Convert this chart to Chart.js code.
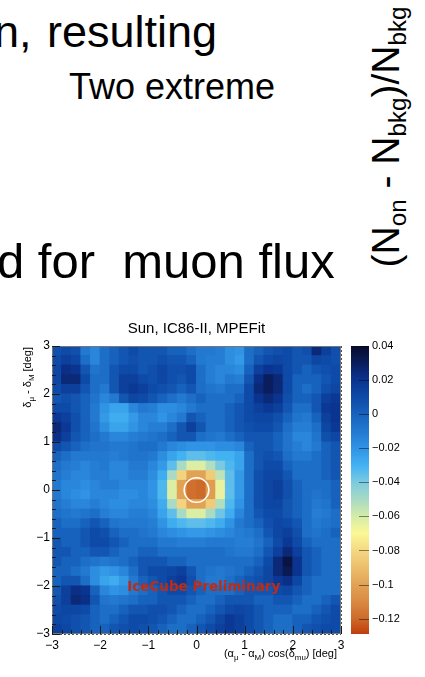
<!DOCTYPE html>
<html>
<head>
<meta charset="utf-8">
<script src="https://cdn.jsdelivr.net/npm/chart.js@4.4.1/dist/chart.umd.min.js"></script>
<style>
  html, body { margin: 0; padding: 0; background: #fff; }
  body { width: 425px; height: 677px; position: relative; overflow: hidden; font-family: 'Liberation Sans', Arial, sans-serif; }
  .slide { position: absolute; white-space: pre; color: #000; }
  #ratio { position: absolute; left: 386px; top: 137px; transform: translate(-50%, -50%) rotate(-90deg); font-size: 39px; line-height: 42px; white-space: nowrap; }
  #ratio sub { font-size: 0.62em; vertical-align: -0.3em; line-height: 0; }
  #chart { position: absolute; left: 0; top: 0; }
</style>
</head>
<body>
<div class="slide" style="left:-6px; top:9px; font-size:45px; line-height:45px; word-spacing:3px">n, resulting</div>
<div class="slide" style="left:69px; top:69px; font-size:36px; line-height:36px">Two extreme</div>
<div class="slide" style="left:-3px; top:237px; font-size:49px; line-height:49px">d for  muon flux</div>
<div id="ratio">(N<sub>on</sub> - N<sub>bkg</sub>)/N<sub>bkg</sub></div>
<canvas id="chart" width="425" height="677"></canvas>
<script>
// bin centres (deg), 0.2 deg bins
const xBins = [-2.9, -2.7, -2.5, -2.3, -2.1, -1.9, -1.7, -1.5, -1.3, -1.1, -0.9, -0.7, -0.5, -0.3, -0.1,
               0.1, 0.3, 0.5, 0.7, 0.9, 1.1, 1.3, 1.5, 1.7, 1.9, 2.1, 2.3, 2.5, 2.7, 2.9];
const yBins = [2.9, 2.7, 2.5, 2.3, 2.1, 1.9, 1.7, 1.5, 1.3, 1.1, 0.9, 0.7, 0.5, 0.3, 0.1,
               -0.1, -0.3, -0.5, -0.7, -0.9, -1.1, -1.3, -1.5, -1.7, -1.9, -2.1, -2.3, -2.5, -2.7, -2.9];
const binWidth = 0.2;

// (Non - Nbkg)/Nbkg in units of 0.001, rows from top (+3 deg) to bottom (-3 deg)
const excess = [
  [8, 10, 8, -10, -15, -5, 0, 5, 10, 5, 5, 5, 0, 0, -5, -10, -10, -12, -18, -20, -5, 0, 5, 8, 10, 5, 8, 25, 15, 8],
  [10, 15, 12, -5, -15, -5, 0, 5, 8, 5, 5, 8, 5, 5, 0, -10, -12, -12, -18, -22, -5, 5, 10, 12, 10, 5, 5, 12, 10, 8],
  [12, 22, 20, 5, -8, -5, 5, 10, 10, 5, 8, 12, 8, 8, 10, -5, -12, -15, -15, -18, 0, 15, 20, 18, 10, 5, 0, 5, 8, 10],
  [12, 25, 25, 10, -5, -5, 5, 15, 15, 10, 8, 12, 8, 5, 10, -5, -12, -15, -10, -12, 5, 22, 30, 25, 10, 0, 0, 0, 5, 10],
  [10, 15, 15, 5, -5, -10, 5, 15, 18, 15, 10, 8, 5, 0, 5, -5, -8, -10, -5, -5, 10, 25, 30, 25, 10, 0, -5, 0, 8, 12],
  [5, 8, 5, 0, -8, -15, -10, 5, 12, 10, 5, 0, -5, -10, -5, 0, -5, -5, -5, 0, 10, 20, 25, 20, 8, 0, 0, 5, 15, 18],
  [10, 10, 5, 0, -10, -20, -25, -25, -15, -10, -12, -18, -18, -15, -10, -5, -5, -5, 0, 5, 10, 15, 18, 15, 5, -5, -5, 5, 18, 20],
  [18, 15, 8, 0, -10, -22, -28, -28, -22, -15, -15, -20, -15, -10, 5, 0, -5, -5, 0, 5, 10, 12, 12, 8, 0, -8, -10, 0, 15, 20],
  [25, 18, 8, 0, -8, -18, -25, -25, -20, -15, -12, -12, -5, 5, 15, 5, -5, -5, 0, 5, 8, 10, 10, 5, -5, -12, -12, -5, 12, 18],
  [22, 15, 5, 0, -5, -10, -15, -15, -12, -10, -8, -5, 0, 5, 5, -5, -8, -10, -5, 0, 5, 5, 5, 0, -8, -15, -15, -8, 8, 12],
  [10, 5, 0, -5, -8, -8, -10, -10, -8, -5, -5, -10, -15, -18, -20, -20, -20, -18, -18, -15, 0, 5, 5, 0, -8, -12, -15, -10, 0, 5],
  [0, -5, -10, -10, -10, -10, -12, -10, -8, -8, -10, -18, -25, -30, -35, -35, -32, -30, -30, -25, -5, 5, 8, 5, -5, -10, -10, -5, 0, 5],
  [-5, -10, -12, -15, -12, -10, -15, -15, -10, -10, -15, -22, -35, -50, -62, -62, -52, -40, -32, -25, -5, 5, 10, 10, 0, -5, -5, -5, 0, 5],
  [-8, -12, -15, -15, -12, -12, -15, -15, -12, -12, -18, -28, -50, -82, -100, -100, -85, -55, -35, -22, -5, 8, 12, 12, 5, -5, -5, -5, 0, 5],
  [-10, -15, -15, -18, -15, -12, -12, -15, -15, -15, -20, -32, -62, -100, -118, -120, -102, -65, -35, -22, -5, 8, 12, 15, 8, 0, -5, -5, -5, 0],
  [-10, -15, -18, -20, -15, -15, -15, -18, -18, -15, -20, -32, -62, -100, -118, -120, -102, -65, -35, -22, -5, 8, 12, 15, 8, 0, -5, -8, -5, 0],
  [-8, -12, -15, -15, -12, -15, -18, -18, -15, -15, -18, -28, -50, -82, -100, -100, -85, -52, -32, -20, -5, 8, 12, 12, 5, 0, -5, -10, -8, 0],
  [-5, -8, -10, -8, -5, -12, -15, -15, -12, -12, -15, -25, -35, -50, -62, -62, -50, -38, -28, -15, -5, 5, 10, 10, 5, 0, -5, -12, -10, -5],
  [0, -5, -5, 0, 5, 0, -8, -10, -10, -10, -12, -20, -28, -32, -35, -35, -32, -28, -20, -10, -5, 0, 8, 12, 10, 5, -5, -10, -8, -5],
  [0, 0, 0, 5, 10, 8, 0, -5, -5, -8, -10, -15, -18, -20, -22, -22, -20, -18, -15, -12, -10, -5, 5, 12, 15, 8, -5, -8, -5, 0],
  [5, 0, 0, 5, 10, 10, 5, 0, -5, -5, -5, -10, -10, -12, -12, -12, -10, -10, -10, -12, -12, -8, 0, 10, 18, 10, 0, -5, -5, -5],
  [5, 5, 0, 0, 5, 5, 0, -5, -5, 0, 0, -5, -5, -5, -5, -5, -5, -5, -8, -10, -10, -5, 5, 15, 25, 15, 5, 0, -5, -5],
  [5, 0, 0, -5, -8, -10, -8, -5, 0, 5, 5, 5, 0, 0, -5, -5, -5, -5, -5, -5, -5, 0, 10, 25, 35, 20, 5, 0, -5, -5],
  [0, 0, -5, -10, -18, -22, -20, -15, -5, 5, 10, 10, 12, 15, 5, -5, -8, -10, -8, -5, 0, 5, 12, 25, 32, 20, 5, 0, -5, -5],
  [0, 5, 5, -5, -18, -25, -28, -22, -10, 0, 5, 10, 15, 18, 8, -5, -10, -10, -5, 0, 5, 8, 12, 18, 22, 12, 0, -5, -5, -5],
  [5, 15, 22, 20, 0, -15, -20, -18, -10, -5, 0, 5, 10, 10, 5, 0, -5, -5, -5, 0, 5, 5, 5, 10, 12, 5, 0, -5, -5, -5],
  [8, 15, 25, 22, 5, -8, -10, -8, -5, 0, 0, 5, 5, 5, 0, -5, -5, 0, 5, 5, 5, 0, 0, 5, 5, 0, -5, -5, 0, 5],
  [10, 12, 12, 10, 0, -5, -5, 0, 5, 5, 8, 8, 5, 0, -5, -5, 0, 5, 10, 12, 10, 5, 0, 0, 0, -5, -5, 0, 5, 10],
  [12, 10, 8, 5, 0, -5, 0, 5, 10, 10, 8, 5, 0, -5, -5, 0, 5, 12, 18, 15, 10, 5, 0, -5, -5, 0, 0, 5, 8, 10],
  [15, 12, 8, 5, 0, 0, 5, 8, 10, 8, 5, 0, -5, -5, 0, 5, 10, 15, 18, 15, 10, 5, 0, -5, -5, 0, 5, 8, 10, 10]
];

// source position
const sunPos = [{x: 0, y: 0}];

// colour axis range
const zMin = -0.129;
const zMax = 0.04;

const palette = [
  [0.040, '#080c2a'], [0.030, '#0a1d5c'], [0.020, '#0b3490'], [0.010, '#0e4aa8'],
  [0.000, '#1762bc'], [-0.010, '#2379d0'], [-0.020, '#3093e4'], [-0.030, '#42b2f2'],
  [-0.040, '#7ccae0'], [-0.050, '#a8dac4'], [-0.060, '#d4eca8'], [-0.070, '#fbf896'],
  [-0.080, '#f4d884'], [-0.090, '#ecbe6c'], [-0.100, '#e2a256'], [-0.110, '#d98a42'],
  [-0.120, '#cd6a2a'], [-0.129, '#c03e0c']
];

function hexRgb(h) {
  return [parseInt(h.slice(1, 3), 16), parseInt(h.slice(3, 5), 16), parseInt(h.slice(5, 7), 16)];
}
function colorFor(v) {
  if (v >= palette[0][0]) return palette[0][1];
  for (let i = 1; i < palette.length; i++) {
    if (v >= palette[i][0]) {
      const [v0, c0] = palette[i - 1], [v1, c1] = palette[i];
      const t = (v0 - v) / (v0 - v1);
      const a = hexRgb(c0), b = hexRgb(c1);
      return 'rgb(' + a.map((c, k) => Math.round(c + (b[k] - c) * t)).join(',') + ')';
    }
  }
  return palette[palette.length - 1][1];
}

const fmt = v => String(Math.round(v * 100) / 100).replace('-', '\u2212');

const cells = [];
yBins.forEach((y, r) => xBins.forEach((x, c) => cells.push({x: x, y: y, v: excess[r][c] / 1000})));

// draw text with sub-scripts, runs = [[text, isSub], ...]
function measureRuns(ctx, runs, size) {
  let w = 0;
  runs.forEach(([t, sub]) => {
    ctx.font = (sub ? size * 0.72 : size) + "px 'Liberation Sans', Arial";
    w += ctx.measureText(t).width;
  });
  return w;
}
function drawRuns(ctx, runs, size, x0, y0) {
  let x = x0;
  runs.forEach(([t, sub]) => {
    ctx.font = (sub ? size * 0.72 : size) + "px 'Liberation Sans', Arial";
    ctx.fillText(t, x, y0 + (sub ? size * 0.28 : 0));
    x += ctx.measureText(t).width;
  });
}

const xTitle = [['(\u03b1', 0], ['\u03bc', 1], [' - \u03b1', 0], ['M', 1], [') cos(\u03b4', 0], ['mu', 1], [') [deg]', 0]];
const yTitle = [['\u03b4', 0], ['\u03bc', 1], [' - \u03b4', 0], ['M', 1], [' [deg]', 0]];

const rootStyle = {
  id: 'rootStyle',
  afterDraw(chart) {
    const {ctx, chartArea: a, scales: {x, y, cb}} = chart;
    ctx.save();

    // colour bar
    const top = Math.round(cb.getPixelForValue(zMax)), bot = Math.round(cb.getPixelForValue(zMin));
    const bl = cb.left + 10, bw = 18;
    for (let py = top; py < bot; py++) {
      ctx.fillStyle = colorFor(cb.getValueForPixel(py + 0.5));
      ctx.fillRect(bl, py, bw, 1);
    }
    ctx.strokeStyle = 'rgba(0,0,0,0.45)';
    ctx.lineWidth = 1;
    ctx.beginPath();
    cb.ticks.forEach(t => {
      const py = Math.round(cb.getPixelForValue(t.value)) + 0.5;
      ctx.moveTo(bl + bw, py); ctx.lineTo(bl + bw - 10, py);
    });
    ctx.stroke();

    // frame
    ctx.strokeStyle = '#777';
    ctx.strokeRect(a.left + 0.5, a.top + 0.5, a.right - a.left - 1, a.bottom - a.top - 1);

    // inner tick marks
    ctx.strokeStyle = '#1a1a1a';
    ctx.beginPath();
    for (let k = 0; k <= 30; k++) {
      const v = -3 + k * 0.2;
      const len = k % 5 === 0 ? 8 : 4;
      const px = Math.round(x.getPixelForValue(v)) + 0.5;
      ctx.moveTo(px, a.bottom); ctx.lineTo(px, a.bottom - len);
      const py = Math.round(y.getPixelForValue(v)) + 0.5;
      ctx.moveTo(a.left, py); ctx.lineTo(a.left + len, py);
    }
    ctx.stroke();

    // axis titles
    ctx.fillStyle = '#000';
    ctx.textBaseline = 'alphabetic';
    ctx.textAlign = 'left';
    const wx = measureRuns(ctx, xTitle, 11);
    drawRuns(ctx, xTitle, 11, a.right - 4 - wx, a.bottom + 23);
    const wy = measureRuns(ctx, yTitle, 11);
    ctx.translate(a.left - 21, a.top + 1);
    ctx.rotate(-Math.PI / 2);
    drawRuns(ctx, yTitle, 11, -wy, 0);
    ctx.restore();

    // preliminary label
    ctx.save();
    ctx.fillStyle = '#c42a10';
    ctx.font = "bold 13.5px 'DejaVu Sans'";
    ctx.textAlign = 'center';
    ctx.textBaseline = 'middle';
    ctx.fillText('IceCube Preliminary', x.getPixelForValue(0.15), y.getPixelForValue(-2.04));
    ctx.restore();
  }
};

Chart.defaults.font.family = "'Liberation Sans', Arial, sans-serif";
Chart.defaults.color = '#000';

new Chart(document.getElementById('chart'), {
  type: 'scatter',
  data: {
    datasets: [
      {
        label: 'Sun',
        data: sunPos,
        order: 0,
        pointStyle: 'circle',
        pointRadius: 12.3,
        pointBorderColor: '#ffffff',
        pointBorderWidth: 1.6,
        pointBackgroundColor: 'rgba(0,0,0,0)'
      },
      {
        label: 'excess',
        data: cells,
        order: 1,
        pointStyle: 'rect',
        pointBorderWidth: 0,
        pointRadius: ctx => {
          const s = ctx.chart.scales.x;
          return (s.getPixelForValue(binWidth) - s.getPixelForValue(0) + 1) / Math.SQRT2;
        },
        pointBackgroundColor: ctx => colorFor(ctx.raw.v)
      }
    ]
  },
  options: {
    responsive: false,
    animation: false,
    events: [],
    layout: { padding: { top: 320, left: 0, right: 0, bottom: 3 } },
    plugins: {
      legend: { display: false },
      tooltip: { enabled: false },
      title: {
        display: true,
        text: 'Sun, IC86-II, MPEFit',
        fullSize: false,
        color: '#000',
        font: { size: 15, weight: 'normal' },
        padding: { top: 0, bottom: 8 }
      }
    },
    scales: {
      x: {
        type: 'linear', min: -3, max: 3, z: 1,
        afterFit: s => { s.height = 40; },
        ticks: { stepSize: 1, padding: 4, maxRotation: 0, autoSkip: false, font: { size: 12 }, callback: v => fmt(v) },
        grid: { color: 'rgba(15,25,40,0.75)', lineWidth: 1, drawTicks: false, borderDash: [2, 2] },
        border: { display: false, dash: [2, 2] }
      },
      y: {
        type: 'linear', min: -3, max: 3, z: 1,
        afterFit: s => { s.width = 52; },
        ticks: { stepSize: 1, padding: 2, autoSkip: false, font: { size: 12 }, callback: v => fmt(v) },
        grid: { color: 'rgba(15,25,40,0.75)', lineWidth: 1, drawTicks: false, borderDash: [2, 2] },
        border: { display: false, dash: [2, 2] }
      },
      cb: {
        type: 'linear', axis: 'y', position: 'right', min: zMin, max: zMax,
        afterFit: s => { s.width = 84; },
        ticks: { stepSize: 0.02, includeBounds: false, padding: 3, font: { size: 11 }, callback: v => fmt(v) },
        grid: { display: false, drawTicks: true, tickLength: 28 },
        border: { display: false }
      }
    }
  },
  plugins: [rootStyle]
});
</script>
</body>
</html>
